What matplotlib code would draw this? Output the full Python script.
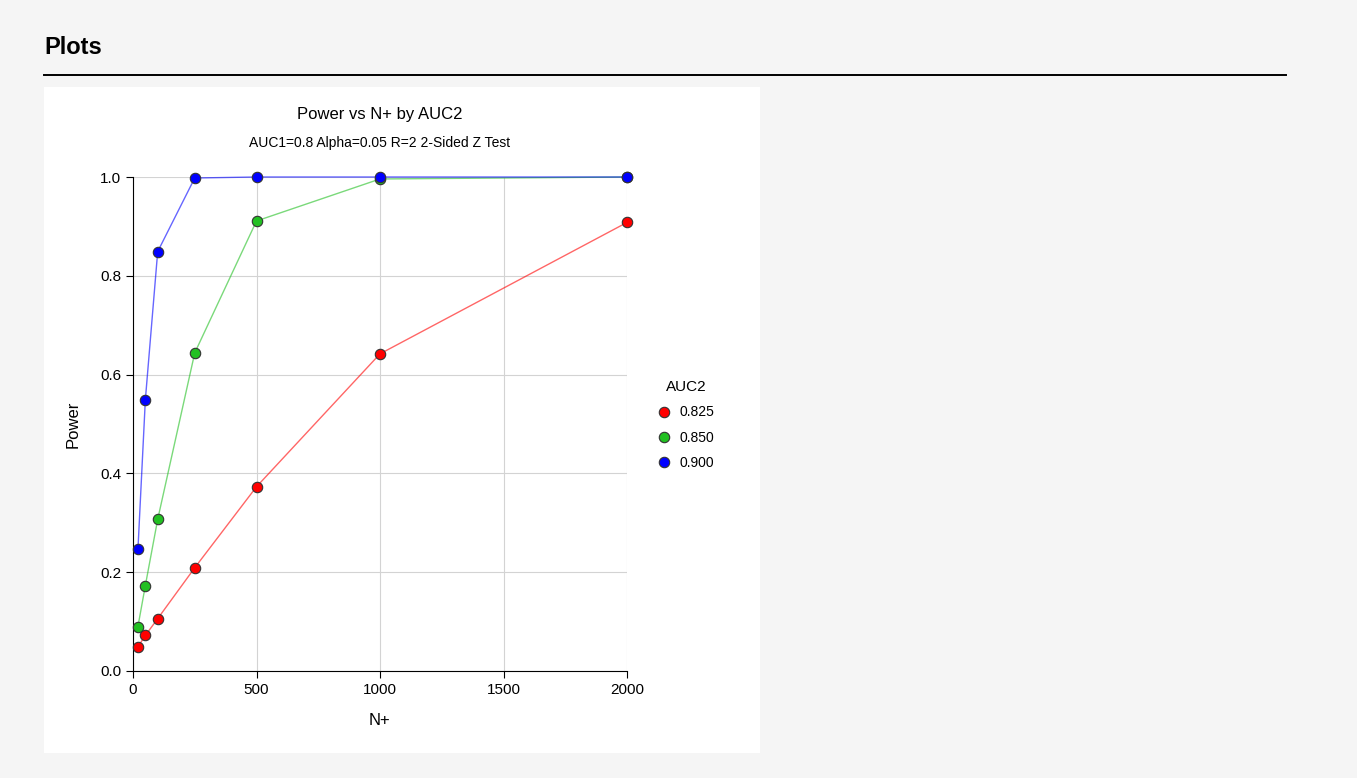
import matplotlib

matplotlib.use("Agg")
import matplotlib.pyplot as plt
from matplotlib.patches import Rectangle
from matplotlib.lines import Line2D

plt.rcParams["font.family"] = ["Liberation Sans", "DejaVu Sans"]

N_PLUS = [20, 50, 100, 250, 500, 1000, 2000]
AUC2_LEVELS = ["0.825", "0.850", "0.900"]
POWER_0825 = [0.049, 0.072, 0.106, 0.209, 0.373, 0.642, 0.908]
POWER_0850 = [0.090, 0.173, 0.307, 0.644, 0.911, 0.996, 1.000]
POWER_0900 = [0.246, 0.549, 0.849, 0.998, 1.000, 1.000, 1.000]
COLORS = ["#ff0000", "#22c022", "#0000ff"]

W, H = 1357, 778
fig = plt.figure(figsize=(W / 100, H / 100), dpi=100)
fig.patch.set_facecolor("#f5f5f5")

# white plot panel
fig.add_artist(Rectangle((44 / W, 1 - 753 / H), (760 - 44) / W, (753 - 87) / H,
                         transform=fig.transFigure, facecolor="white",
                         edgecolor="none", zorder=0))
fig.text(44 / W, 1 - 47 / H, "Plots", fontsize=17, fontweight="bold",
         ha="left", va="center")
fig.add_artist(Line2D([44 / W, 1286 / W], [1 - 75 / H, 1 - 75 / H],
                      transform=fig.transFigure, color="black", lw=1.4))

ax = fig.add_axes([133 / W, 1 - 671 / H, (627 - 133) / W, (671 - 177) / H])
ax.set_facecolor("white")
for vals, color, label in zip([POWER_0825, POWER_0850, POWER_0900], COLORS, AUC2_LEVELS):
    ax.plot(N_PLUS, vals, color=color, lw=1.0, alpha=0.6, zorder=3, clip_on=False)
    ax.plot(N_PLUS, vals, linestyle="none", marker="o", ms=7.5,
            mfc=color, mec="#333333", mew=0.8, zorder=4, label=label,
            clip_on=False)

ax.set_xlim(0, 2000)
ax.set_ylim(0, 1.0)
ax.set_xticks([0, 500, 1000, 1500, 2000])
ax.set_yticks([0.0, 0.2, 0.4, 0.6, 0.8, 1.0])
ax.set_yticklabels(["0.0", "0.2", "0.4", "0.6", "0.8", "1.0"])
ax.grid(True, color="#d3d3d3", lw=0.8)
ax.set_axisbelow(True)
for side in ("top", "right"):
    ax.spines[side].set_visible(False)
ax.tick_params(labelsize=11, length=5, colors="black")
ax.set_xlabel("N+", fontsize=12, labelpad=12)
ax.set_ylabel("Power", fontsize=12, labelpad=14)

fig.text(380 / W, 1 - 115 / H, "Power vs N+ by AUC2", fontsize=12,
         ha="center", va="center")
fig.text(380 / W, 1 - 143 / H, "AUC1=0.8 Alpha=0.05 R=2 2-Sided Z Test",
         fontsize=10, ha="center", va="center")

leg = ax.legend(title="AUC2", loc="center left",
                bbox_to_anchor=(645 / W, 1 - 425 / H),
                bbox_transform=fig.transFigure, frameon=False,
                fontsize=10, title_fontsize=11, handletextpad=0.6,
                labelspacing=0.8, handlelength=1.0)

fig.savefig("out.png", dpi=100, facecolor=fig.get_facecolor())
